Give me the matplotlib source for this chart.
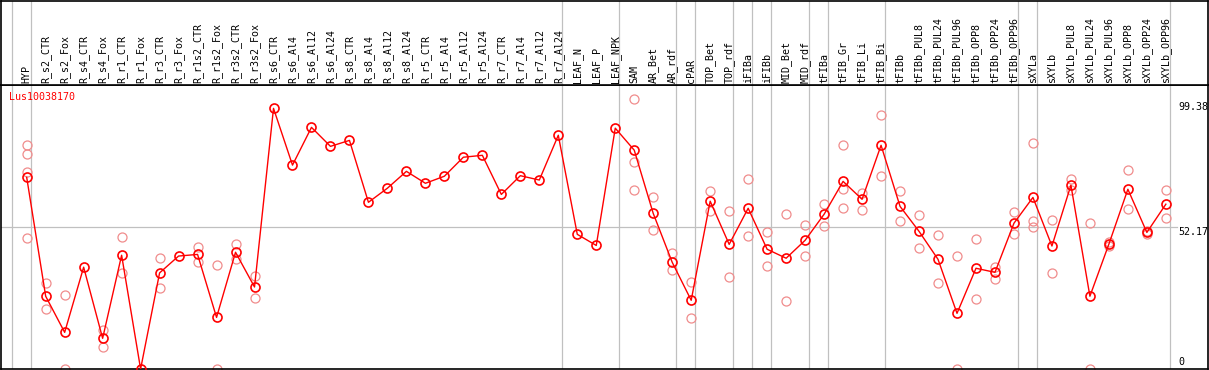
import matplotlib
matplotlib.use("Agg")
import matplotlib.pyplot as plt
import matplotlib.transforms as mtransforms

# --- datos ---
gene_id = "Lus10038170"

muestras = ["HYP", "R_s2_CTR", "R_s2_Fox", "R_s4_CTR", "R_s4_Fox", "R_r1_CTR", "R_r1_Fox",
            "R_r3_CTR", "R_r3_Fox", "R_r1s2_CTR", "R_r1s2_Fox", "R_r3s2_CTR", "R_r3s2_Fox",
            "R_s6_CTR", "R_s6_Al4", "R_s6_Al12", "R_s6_Al24", "R_s8_CTR", "R_s8_Al4",
            "R_s8_Al12", "R_s8_Al24", "R_r5_CTR", "R_r5_Al4", "R_r5_Al12", "R_r5_Al24",
            "R_r7_CTR", "R_r7_Al4", "R_r7_Al12", "R_r7_Al24", "LEAF_N", "LEAF_P", "LEAF_NPK",
            "SAM", "AR_Bet", "AR_rdf", "cPAR", "TOP_Bet", "TOP_rdf", "iFIBa", "iFIBb",
            "MID_Bet", "MID_rdf", "tFIBa", "tFIB_Gr", "tFIB_Li", "tFIB_Bi", "tFIBb",
            "tFIBb_PUL8", "tFIBb_PUL24", "tFIBb_PUL96", "tFIBb_OPP8", "tFIBb_OPP24",
            "tFIBb_OPP96", "sXYLa", "sXYLb", "sXYLb_PUL8", "sXYLb_PUL24", "sXYLb_PUL96",
            "sXYLb_OPP8", "sXYLb_OPP24", "sXYLb_OPP96"]

medias = [70.6, 26.8, 13.5, 37.5, 11.3, 41.9, 0.0, 35.4, 41.6, 42.2, 19.0, 43.0, 30.2,
          96.0, 75.1, 89.0, 82.0, 84.2, 61.4, 66.6, 72.8, 68.4, 71.0, 78.0, 78.7,
          64.3, 71.2, 69.6, 86.1, 49.6, 45.5, 88.7,
          80.6, 57.3, 39.3, 25.3, 61.8, 45.9, 59.2, 44.1, 40.8, 47.4, 57.0,
          69.1, 62.5, 82.4, 59.9, 50.7, 40.4, 20.5, 37.1, 35.6, 53.7,
          63.2, 45.3, 67.7, 26.8, 46.0, 66.2, 50.3, 60.7]

replicas = [[82.5, 79.1, 72.7, 48.1], [31.6, 22.1], [27.3, 0.0], [], [14.4, 8.2],
            [48.6, 35.5], [], [40.8, 29.7], [], [44.9, 39.3], [38.3, 0.0], [46.0, 40.5],
            [34.3, 26.0],
            [], [], [], [], [], [], [], [], [], [], [], [], [], [], [], [], [], [], [],
            [99.38, 76.1, 65.8], [63.5, 51.1], [42.7, 36.4], [31.9, 18.7], [65.6, 58.1],
            [58.1, 33.8], [70.0, 48.9], [50.3, 37.8], [57.0, 25.0], [52.9, 41.6],
            [60.8, 52.6], [82.4, 66.2, 59.2], [64.7, 58.5], [93.4, 71.0], [65.5, 54.4],
            [56.6, 44.5], [49.2, 31.6], [41.5, 0.0], [47.8, 25.9], [37.7, 33.3],
            [57.7, 49.6], [83.1, 54.5, 52.2], [54.9, 35.2], [70.0, 65.9], [53.7, 0.0],
            [45.3, 46.7], [73.3, 59.0], [50.9, 49.7], [65.9, 55.6]]

# ultima muestra de cada grupo (separadores grises)
fin_grupo = [-1, 0, 28, 31, 34, 35, 37, 38, 39, 41, 42, 45, 52, 53, 60]

marcas_y = [99.38, 52.17, 0]

# --- figura ---
W, H = 1209, 370
fig = plt.figure(figsize=(W / 100, H / 100), dpi=100)
fig.patch.set_facecolor("white")

fuente = {"family": "DejaVu Sans Mono", "size": 7.2}
rojo = "#ff0000"
rosa = "#f08c8c"
gris = "#c0c0c0"

y_sep = 85  # linea entre cabecera y grafico (px desde arriba)
ax = fig.add_axes([1 / W, 1 / H, 1207 / W, (369 - y_sep) / H])
ax_top = fig.add_axes([1 / W, (H - y_sep) / H, 1207 / W, (y_sep - 0.5) / H], sharex=ax)

x_ini, x_fin = -1.353, 62.22
ax.set_xlim(x_ini, x_fin)
ax.set_ylim(0, 104.6)
ax_top.set_ylim(0, 1)

for a in (ax, ax_top):
    a.set_xticks([])
    a.set_yticks([])
    for s in a.spines.values():
        s.set_color("black")
        s.set_linewidth(1.2)

# separadores verticales
for g in fin_grupo:
    ax.axvline(g + 0.21, color=gris, lw=0.9, zorder=1)
    ax_top.axvline(g + 0.21, color=gris, lw=0.9, zorder=1)

# linea horizontal en 52.17
ax.axhline(marcas_y[1], xmin=0, xmax=0.974, color=gris, lw=0.9, zorder=1)

# replicas
for i, reps in enumerate(replicas):
    if reps:
        ax.plot([i] * len(reps), reps, linestyle="none", marker="o", ms=6.5,
                mfc="none", mec=rosa, mew=0.9, zorder=2, clip_on=True)

# medias
xs = list(range(len(muestras)))
ax.plot(xs, medias, color=rojo, lw=1.0, marker="o", ms=6.5, mfc="none",
        mec=rojo, mew=1.2, zorder=3)

# etiquetas de columnas
trans_top = mtransforms.blended_transform_factory(ax_top.transData, ax_top.transAxes)
for i, m in enumerate(muestras):
    ax_top.text(i, 2 / y_sep, m, rotation=90, ha="center", va="bottom",
                transform=trans_top, fontdict=fuente)

# nombre del gen
ax.text(8.3 / 1207, 1 - 12 / 284, gene_id, color=rojo, transform=ax.transAxes,
        ha="left", va="center", fontdict=fuente)

# etiquetas del eje derecho
trans_der = mtransforms.blended_transform_factory(ax.transAxes, ax.transData)
desplaz = [-5.6, -3.3, 5.0]
for v, d in zip(marcas_y, desplaz):
    ax.annotate(f"{v:g}", xy=(0.9754, v), xycoords=trans_der, xytext=(0, d),
                textcoords="offset points", ha="left", va="center", fontfamily="DejaVu Sans Mono",
                fontsize=7.2, annotation_clip=False)

fig.savefig("out.png", dpi=100)
